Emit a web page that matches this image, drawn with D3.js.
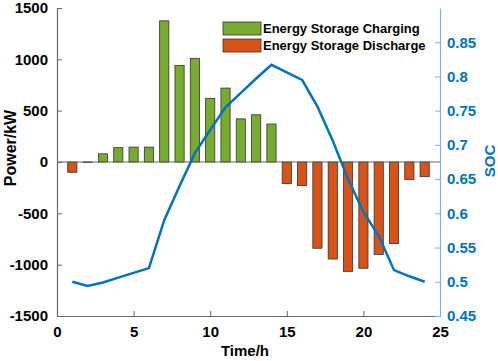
<html>
  <head>
    <meta charset="utf-8" />
    <script src="https://d3js.org/d3.v7.min.js"></script>
    <style>
      body { margin: 0; background: #fff; }
      text { font-family: "Liberation Sans", Arial, sans-serif; font-weight: bold; }
    </style>
  </head>
  <body>
    <svg id="chart" width="498" height="361"></svg>
    <script>
      // hours 1..24
      const hours = d3.range(1, 25);
      // storage power per hour (kW), + = charging, - = discharging
      const power = [-100, -5, 80, 140, 145, 145, 1375, 940, 1010, 620, 720, 420,
                     460, 370, -210, -230, -840, -945, -1065, -1035, -900, -795, -170, -143];
      // state of charge per hour
      const soc = [0.500, 0.494, 0.499, 0.506, 0.513, 0.520, 0.590, 0.640, 0.688, 0.722, 0.755, 0.776,
                   0.797, 0.817, 0.806, 0.795, 0.756, 0.706, 0.650, 0.602, 0.567, 0.517, 0.508, 0.500];
      const xTicks = [0, 5, 10, 15, 20, 25];
      const yTicks = [-1500, -1000, -500, 0, 500, 1000, 1500];
      const socTicks = [0.45, 0.5, 0.55, 0.6, 0.65, 0.7, 0.75, 0.8, 0.85];
      const legendLabels = ["Energy Storage Charging", "Energy Storage Discharge"];

      const green = "#77AC30", orange = "#D95319", blue = "#0072BD";

      const svg = d3.select("#chart");
      const margin = { top: 8, right: 58, bottom: 45, left: 57 };
      const w = 498 - margin.left - margin.right;
      const h = 361 - margin.top - margin.bottom;
      const g = svg.append("g").attr("transform", "translate(" + margin.left + "," + margin.top + ")");

      const x = d3.scaleLinear().domain([0, 25]).range([0, w]);
      const y = d3.scaleLinear().domain([-1500, 1500]).range([h, 0]);
      const y2 = d3.scaleLinear().domain([0.45, 0.9]).range([h, 0]);
      const bw = x(0.6) - x(0);

      // bars
      g.selectAll("rect.bar")
        .data(hours)
        .join("rect")
        .attr("class", "bar")
        .attr("x", (d) => x(d) - bw / 2)
        .attr("width", bw)
        .attr("y", (d, i) => y(Math.max(0, power[i])))
        .attr("height", (d, i) => Math.abs(y(power[i]) - y(0)))
        .attr("fill", (d, i) => (power[i] >= 0 ? green : orange))
        .attr("stroke", "#333")
        .attr("stroke-width", 0.8);

      // zero baseline
      g.append("line")
        .attr("x1", 0).attr("x2", w)
        .attr("y1", y(0)).attr("y2", y(0))
        .attr("stroke", "#666").attr("stroke-width", 1.2);

      // SOC line
      g.append("path")
        .datum(hours)
        .attr("fill", "none")
        .attr("stroke", blue)
        .attr("stroke-width", 2.5)
        .attr("d", d3.line().x((d) => x(d)).y((d, i) => y2(soc[i])));

      // axes
      const xAxis = g.append("g").attr("transform", "translate(0," + h + ")")
        .call(d3.axisBottom(x).tickValues(xTicks).tickSize(-5).tickSizeOuter(0).tickPadding(10));
      const yAxis = g.append("g")
        .call(d3.axisLeft(y).tickValues(yTicks).tickFormat((d) => String(d)).tickSize(-5).tickSizeOuter(0).tickPadding(9));
      const y2Axis = g.append("g").attr("transform", "translate(" + w + ",0)")
        .call(d3.axisRight(y2).tickValues(socTicks).tickFormat((d) => String(d)).tickSize(-5).tickSizeOuter(0).tickPadding(7));

      [xAxis, yAxis].forEach((a) => {
        a.select(".domain").attr("stroke", "#666").attr("stroke-width", 1.2);
        a.selectAll(".tick line").attr("stroke", "#666");
        a.selectAll(".tick text").attr("fill", "#000").style("font-size", "15px");
      });
      y2Axis.select(".domain").attr("stroke", "#7fb2dc").attr("stroke-width", 1.2);
      y2Axis.selectAll(".tick line").attr("stroke", "#7fb2dc");
      y2Axis.selectAll(".tick text").attr("fill", blue).style("font-size", "15px");

      // axis titles
      svg.append("text")
        .attr("x", 245).attr("y", 356)
        .attr("text-anchor", "middle")
        .style("font-size", "15px")
        .text("Time/h");
      svg.append("text")
        .attr("transform", "translate(16,148) rotate(-90)")
        .attr("text-anchor", "middle")
        .style("font-size", "16px")
        .text("Power/kW");
      svg.append("text")
        .attr("transform", "translate(495,161) rotate(-90)")
        .attr("text-anchor", "middle")
        .attr("fill", blue)
        .style("font-size", "15px")
        .text("SOC");

      // legend
      const legend = svg.append("g").attr("transform", "translate(223,22)");
      legend.append("rect").attr("x", -3).attr("y", -3).attr("width", 202).attr("height", 36).attr("fill", "#fff");
      legend.selectAll("rect.key")
        .data(legendLabels)
        .join("rect")
        .attr("class", "key")
        .attr("x", 0)
        .attr("y", (d, i) => i * 17)
        .attr("width", 38)
        .attr("height", 13)
        .attr("fill", (d, i) => (i === 0 ? green : orange))
        .attr("stroke", "#333")
        .attr("stroke-width", 0.8);
      legend.selectAll("text")
        .data(legendLabels)
        .join("text")
        .attr("x", 40)
        .attr("y", (d, i) => i * 17 + 11)
        .style("font-size", "13px")
        .text((d) => d);
    </script>
  </body>
</html>
